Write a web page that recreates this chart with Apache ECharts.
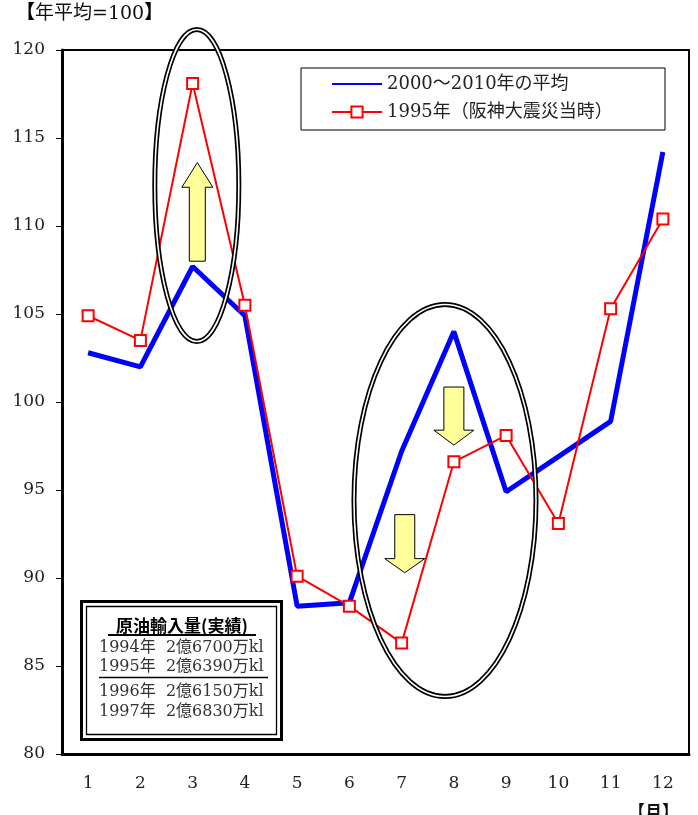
<!DOCTYPE html>
<html>
<head>
<meta charset="utf-8">
<script src="https://cdn.jsdelivr.net/npm/echarts@6/dist/echarts.min.js"></script>
<style>
  html, body { margin: 0; padding: 0; background: #fff; }
  #chart { width: 698px; height: 815px; }
</style>
</head>
<body>
<div id="chart"></div>
<script>
// Monthly crude oil import index (annual average = 100)
const months = ['1', '2', '3', '4', '5', '6', '7', '8', '9', '10', '11', '12'];
const avg2000to2010 = [102.8, 102.0, 107.7, 104.9, 88.4, 88.6, 97.2, 104.0, 94.9, 96.9, 98.9, 114.2];
const year1995 = [104.9, 103.5, 118.1, 105.5, 90.1, 88.4, 86.3, 96.6, 98.1, 93.1, 105.3, 110.4];
const seriesNames = ['2000～2010年の平均', '1995年（阪神大震災当時）'];

// Inset table: crude oil imports (actual)
const tableTitle = '原油輸入量(実績)';
const tableRows = ['1994年  2億6700万kl', '1995年  2億6390万kl', '1996年  2億6150万kl', '1997年  2億6830万kl'];

const serif = '"DejaVu Serif", "Noto Sans CJK JP", serif';
const chart = echarts.init(document.getElementById('chart'), null, { renderer: 'canvas' });

chart.setOption({
  animation: false,
  backgroundColor: '#fff',
  grid: {
    left: 62, right: 9, top: 50, bottom: 61,
    show: true, borderColor: '#000', borderWidth: 2, backgroundColor: 'transparent'
  },
  legend: {
    orient: 'vertical',
    left: 301, top: 68,
    padding: [6, 10, 8, 30],
    itemWidth: 50, itemHeight: 14, itemGap: 8,
    backgroundColor: '#fff', borderColor: '#000', borderWidth: 1,
    textStyle: { fontFamily: serif, fontSize: 18, color: '#222', lineHeight: 20, width: 268 },
    data: [
      { name: seriesNames[0], itemStyle: { opacity: 0 } },
      { name: seriesNames[1] }
    ]
  },
  xAxis: {
    type: 'category',
    data: months,
    axisLine: { lineStyle: { color: '#000', width: 3 } },
    axisTick: { inside: true, length: 5, lineStyle: { color: '#000', width: 1 } },
    axisLabel: { margin: 21, fontFamily: serif, fontSize: 17, color: '#222' },
    splitLine: { show: false }
  },
  yAxis: {
    type: 'value',
    min: 80, max: 120, interval: 5,
    axisLine: { show: true, lineStyle: { color: '#000', width: 3 } },
    axisTick: { show: true, inside: false, length: 6, lineStyle: { color: '#000', width: 1 } },
    axisLabel: { margin: 17, fontFamily: serif, fontSize: 17, color: '#222' },
    splitLine: { show: false }
  },
  series: [
    {
      name: seriesNames[0],
      type: 'line',
      data: avg2000to2010,
      symbol: 'none',
      lineStyle: { color: '#0000ff', width: 5 },
      itemStyle: { color: '#0000ff' },
      z: 2
    },
    {
      name: seriesNames[1],
      type: 'line',
      data: year1995,
      symbol: 'rect',
      symbolSize: 11,
      lineStyle: { color: '#ff0000', width: 2 },
      itemStyle: { color: '#fff', borderColor: '#ff0000', borderWidth: 2 },
      z: 3
    }
  ]
});

// Map (month position, value) to pixels using the axes' own scales
function pt(month, value) {
  const a = chart.convertToPixel({ xAxisIndex: 0, yAxisIndex: 0 }, [0, value]);
  const b = chart.convertToPixel({ xAxisIndex: 0, yAxisIndex: 0 }, [1, value]);
  return [a[0] + (month - 1) * (b[0] - a[0]), a[1]];
}

function doubleEllipse(cMonth, cValue, rx, ry) {
  const c = pt(cMonth, cValue);
  const shape = { cx: c[0], cy: c[1], rx: rx, ry: ry };
  return [
    { type: 'ellipse', shape: shape, style: { fill: null, stroke: '#000', lineWidth: 5 }, z: 50 },
    { type: 'ellipse', shape: shape, style: { fill: null, stroke: '#fff', lineWidth: 1.6 }, z: 51 }
  ];
}

// Block arrow: from tail value to tip value, head starts at headValue
function blockArrow(month, tailValue, headValue, tipValue, shaftHalf, headHalf) {
  const cx = pt(month, tailValue)[0];
  const tail = pt(month, tailValue)[1];
  const hb = pt(month, headValue)[1];
  const tip = pt(month, tipValue)[1];
  return {
    type: 'polygon',
    shape: {
      points: [
        [cx, tip], [cx + headHalf, hb], [cx + shaftHalf, hb], [cx + shaftHalf, tail],
        [cx - shaftHalf, tail], [cx - shaftHalf, hb], [cx - headHalf, hb]
      ]
    },
    style: { fill: '#ffff99', stroke: '#000', lineWidth: 1 },
    z: 60
  };
}

const graphics = [];
graphics.push(...doubleEllipse(3.08, 112.3, 42, 156));
graphics.push(...doubleEllipse(7.83, 94.4, 91, 196));
graphics.push(blockArrow(3.09, 108.0, 112.2, 113.6, 8, 15.5));
graphics.push(blockArrow(8.0, 100.85, 98.4, 97.55, 10, 20));
graphics.push(blockArrow(7.06, 93.6, 91.1, 90.3, 10, 20));

// Axis captions
graphics.push({
  type: 'text', left: 16, top: 5, z: 70,
  style: {
    text: '{b|【}年平均=100{b|】}',
    fontFamily: serif, fontSize: 19, fill: '#111',
    rich: { b: { fontFamily: serif, fontSize: 19, fontWeight: 'bold', fill: '#000' } }
  }
});
graphics.push({
  type: 'text', left: 628, top: 805, z: 70,
  style: { text: '【月】', fontFamily: serif, fontSize: 17, fontWeight: 'bold', fill: '#111' }
});

// Inset table with double frame
const rowY = [648, 667, 692, 712];
const table = [
  { type: 'rect', shape: { x: 81.5, y: 601.5, width: 200, height: 138 }, style: { fill: '#fff', stroke: '#000', lineWidth: 3 }, z: 80 },
  { type: 'rect', shape: { x: 86.5, y: 606.5, width: 190, height: 128 }, style: { fill: 'none', stroke: '#000', lineWidth: 1.3 }, z: 81 },
  { type: 'text', x: 182, y: 626, z: 82, style: { text: tableTitle, fontFamily: '"Noto Sans CJK JP", sans-serif', fontSize: 17, fontWeight: 'bold', fill: '#000', align: 'center', verticalAlign: 'middle' } },
  { type: 'line', shape: { x1: 108, y1: 635, x2: 256, y2: 635 }, style: { stroke: '#000', lineWidth: 2 }, z: 82 },
  { type: 'line', shape: { x1: 99, y1: 677.5, x2: 268, y2: 677.5 }, style: { stroke: '#000', lineWidth: 1.3 }, z: 82 }
];
tableRows.forEach(function (row, i) {
  table.push({
    type: 'text', x: 99, y: rowY[i], z: 82,
    style: { text: row, fontFamily: serif, fontSize: 16, fill: '#333', align: 'left', verticalAlign: 'middle' }
  });
});
graphics.push(...table);

chart.setOption({ graphic: graphics });
</script>
</body>
</html>
